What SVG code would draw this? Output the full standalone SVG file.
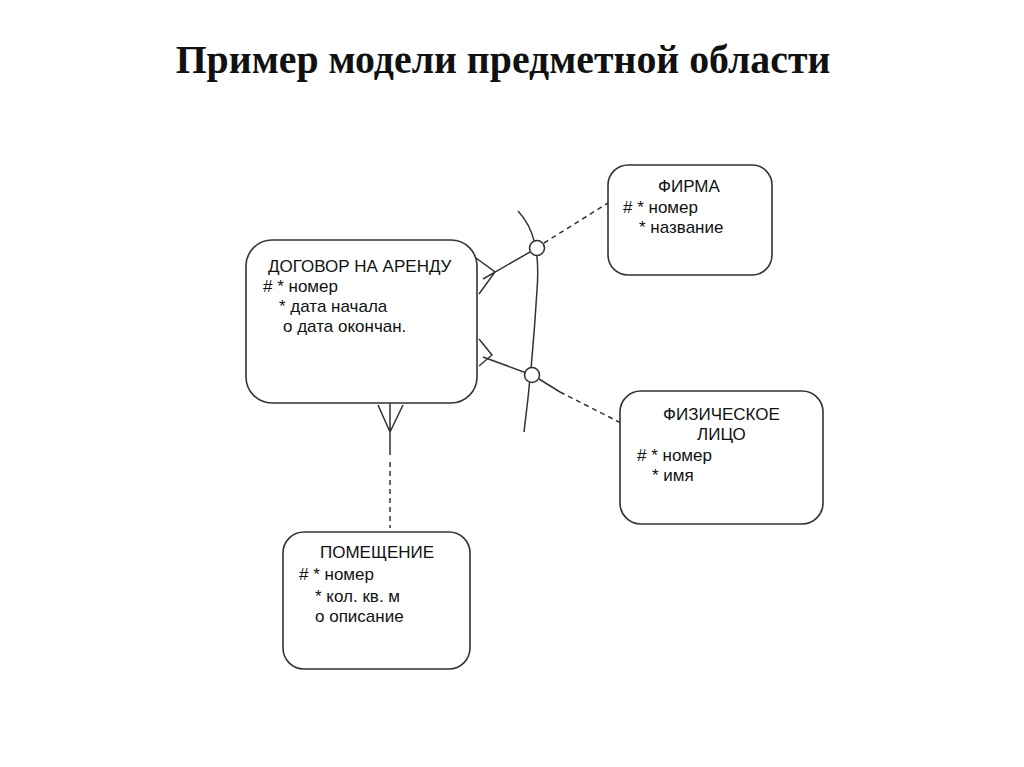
<svg xmlns="http://www.w3.org/2000/svg" width="1024" height="767" viewBox="0 0 1024 767">
<style>
.box{fill:#fff;stroke:#333;stroke-width:1.6}
.ln{fill:none;stroke:#333;stroke-width:1.5}
.dash{fill:none;stroke:#333;stroke-width:1.5;stroke-dasharray:5 4}
.t{font-family:"Liberation Sans",Arial,sans-serif;font-size:17px;fill:#111}
.title{font-family:"Liberation Serif","Times New Roman",serif;font-size:39.8px;font-weight:bold;fill:#111}
</style>
<rect width="1024" height="767" fill="#fff"/>
<text class="title" x="503" y="73" text-anchor="middle">Пример модели предметной области</text>
<g id="connectors">
<path class="ln" d="M518 211 C534 228 540 252 537 290 C534 340 530 385 524 432"/>
<path class="ln" d="M537 248 L483 279 M476 258 L495 272 L479 294"/>
<path class="ln" d="M532 375 L483 357 M479 339 L492 355 L479 366"/>
<path class="dash" d="M544 243 L608 203"/>
<path class="ln" d="M539 379 L560 392"/>
<path class="dash" d="M560 392 L621 423"/>
<path class="ln" d="M390 403 L390 455 M378 405 L390 432 L403 405"/>
<path class="dash" d="M390 462 L390 528"/>
<circle class="box" cx="537" cy="248" r="7.5"/>
<circle class="box" cx="532" cy="375" r="7.5"/>
</g>
<g id="dogovor">
<rect class="box" x="246" y="240" width="231" height="163" rx="26"/>
<text class="t" x="268" y="272">ДОГОВОР НА АРЕНДУ</text>
<text class="t" x="263" y="292"># * номер</text>
<text class="t" x="279" y="312">* дата начала</text>
<text class="t" x="283" y="332">о дата окончан.</text>
</g>
<g id="firma">
<rect class="box" x="608" y="165" width="164" height="110" rx="20"/>
<text class="t" x="658" y="192">ФИРМА</text>
<text class="t" x="623" y="213"># * номер</text>
<text class="t" x="639" y="233">* название</text>
</g>
<g id="fiz">
<rect class="box" x="620" y="391" width="203" height="133" rx="21"/>
<text class="t" x="663" y="420">ФИЗИЧЕСКОЕ</text>
<text class="t" x="697" y="440">ЛИЦО</text>
<text class="t" x="637" y="461"># * номер</text>
<text class="t" x="652" y="481">* имя</text>
</g>
<g id="pomeshenie">
<rect class="box" x="283" y="532" width="187" height="137" rx="21"/>
<text class="t" x="320" y="558">ПОМЕЩЕНИЕ</text>
<text class="t" x="299" y="580"># * номер</text>
<text class="t" x="315" y="602">* кол. кв. м</text>
<text class="t" x="315" y="622">о описание</text>
</g>
</svg>
